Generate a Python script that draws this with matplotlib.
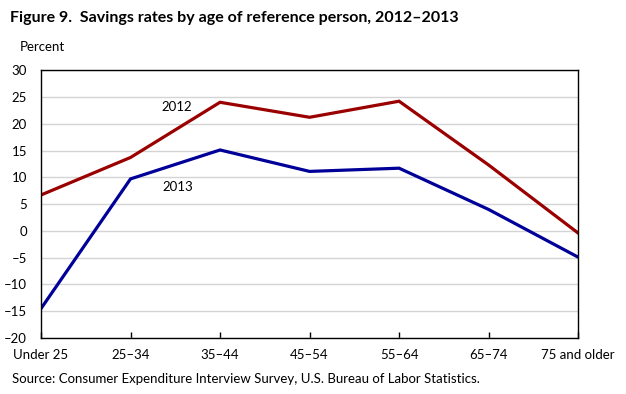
import matplotlib.pyplot as plt

ages = ['Under 25', '25–34', '35–44', '45–54', '55–64', '65–74', '75 and older']
rate_2012 = [6.7, 13.7, 24.0, 21.2, 24.2, 12.3, -0.4]
rate_2013 = [-14.5, 9.7, 15.1, 11.1, 11.7, 4.0, -4.9]
yticks = [30, 25, 20, 15, 10, 5, 0, -5, -10, -15, -20]

plt.rcParams['font.family'] = ['Lato', 'DejaVu Sans']

fig = plt.figure(figsize=(6.26, 3.94), dpi=100)
ax = fig.add_axes([0.0655, 0.142, 0.858, 0.680])

x = list(range(len(ages)))
ax.plot(x, rate_2012, color='#9b0000', linewidth=2.3, solid_joinstyle='miter')
ax.plot(x, rate_2013, color='#000099', linewidth=2.3, solid_joinstyle='miter')

ax.text(1.52, 23.1, '2012', ha='center', va='center', fontsize=9.5)
ax.text(1.53, 8.2, '2013', ha='center', va='center', fontsize=9.5)

ax.set_xlim(0, 6)
ax.set_ylim(-20, 30)
ax.set_yticks(yticks)
ax.set_yticklabels([str(v).replace('-', '–') for v in yticks], fontsize=9.5)
ax.set_xticks(x)
ax.set_xticklabels(ages, fontsize=9.5)
ax.tick_params(axis='x', direction='in', length=4, width=1, pad=8)
ax.tick_params(axis='y', length=0, pad=10)

ax.grid(axis='y', color='#d4d4d4', linewidth=1)
ax.set_axisbelow(True)
for s in ax.spines.values():
    s.set_linewidth(1)
    s.set_color('black')

fig.text(0.016, 0.955, 'Figure 9.  Savings rates by age of reference person, 2012–2013',
         fontsize=11.5, fontweight='bold', ha='left', va='center')
fig.text(0.032, 0.88, 'Percent', fontsize=9.5, ha='left', va='center')
fig.text(0.019, 0.038, 'Source: Consumer Expenditure Interview Survey, U.S. Bureau of Labor Statistics.',
         fontsize=9.5, ha='left', va='center')

fig.savefig('out.png', dpi=100)
